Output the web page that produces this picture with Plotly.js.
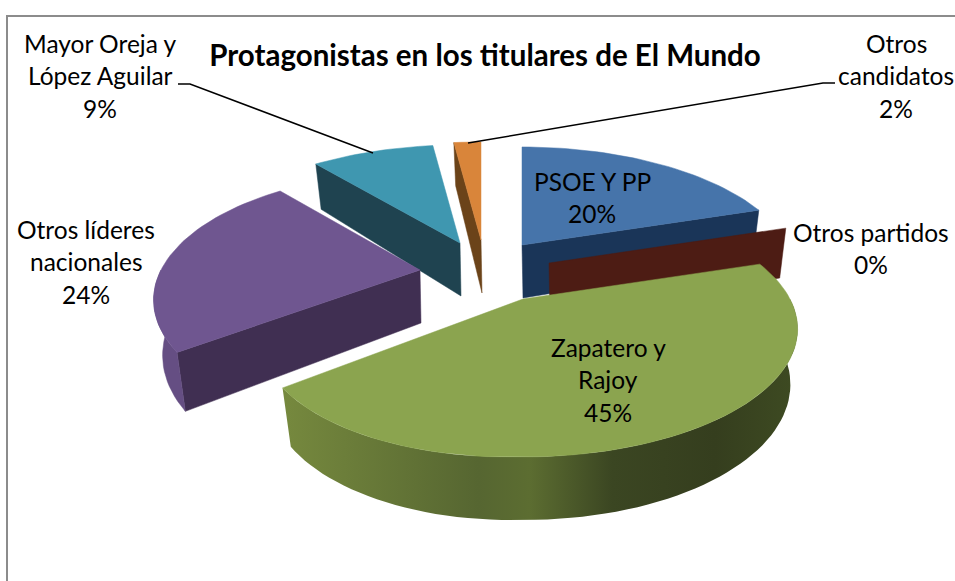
<!DOCTYPE html>
<html><head><meta charset="utf-8">
<script src="https://cdn.plot.ly/plotly-3.0.1.min.js"></script>
<style>html,body{margin:0;padding:0;background:#fff}#c{width:955px;height:581px}</style>
</head><body><div id="c"></div>
<script>
// ---- data ----
const categories = ["PSOE Y PP","Otros partidos","Zapatero y Rajoy","Otros líderes nacionales","Mayor Oreja y López Aguilar","Otros candidatos"];
const values = [20,0,45,24,9,2];
const titleText = "Protagonistas en los titulares de El Mundo";
const labelLines = [["PSOE Y PP"],["Otros partidos"],["Zapatero y","Rajoy"],["Otros líderes","nacionales"],["Mayor Oreja y","López Aguilar"],["Otros","candidatos"]];

// ---- drawing style / projection ----
const topColors  = ["#4674aa","#5a2a20","#8ba44f","#6f5690","#3f97b0","#d9853a"];
const wallColors = ["#1a3558","#4d1c14","#5f7033","#402f52","#1f4350","#6b4319"];
const rimColors  = ["#1a3558","#4d1c14","#5f7033","#654e83","#1f4350","#6b4319"];
const apexes = [[522,245],[549,263],[523,299],[420,270],[460,243],[481,240]];
const leftScale = [1,1,0.96,0.97,1,1];
const leftDrop  = [0,0,8,0,0,0];
const labelPos = [[592,181],[871,232],[608,347],[86,229],[100,43],[896,43]];
const lineGap = 32.5, A = 267, B = 121, K = 0.234;
const total = values.reduce((a,b)=>a+b,0);

function proj(i, deg){
  const t = deg*Math.PI/180, X = Math.sin(t), Y = -Math.cos(t), s = 1/(1-K*Y);
  const w = X < 0 ? leftScale[i] : 1, d = X < 0 ? -leftDrop[i]*X : 0;
  return {x: apexes[i][0]+A*w*X*s, y: apexes[i][1]+B*Y*s+d, Y};
}
function low(i, p){
  return {x: apexes[i][0]+(p.x-apexes[i][0])*0.97+1, y: p.y+53+10*p.Y};
}
function poly(pts, color, name, extra){
  return Object.assign({type:"scatter",mode:"lines",x:pts.map(p=>p.x),y:pts.map(p=>p.y),fill:"toself",
    fillcolor:color,line:{color:color,width:0.5},name:name,hoverinfo:"text",text:name,showlegend:false},extra||{});
}
function radialWall(i, deg, name){
  const c = {x:apexes[i][0],y:apexes[i][1],Y:0}, p = proj(i,deg);
  return poly([c,p,low(i,p),low(i,c),c], wallColors[i], name);
}
function rim(i, a0, a1, name){
  const from = Math.max(a0,90), to = Math.min(a1,270);
  if (to <= from) return null;
  const up=[], n = Math.ceil((to-from)/2);
  for(let k=0;k<=n;k++) up.push(proj(i,from+(to-from)*k/n));
  const pts = up.concat(up.slice().reverse().map(p=>low(i,p)));
  pts.push(up[0]);
  const extra = i===2 ? {line:{color:"rgba(0,0,0,0)",width:0},fillgradient:{type:"horizontal",colorscale:[
    [0,"#76893e"],[0.38,"#566631"],[0.48,"#5c6d31"],[0.64,"#3b4622"],[0.84,"#353e1e"],[1,"#3e4b22"]]}} : {};
  return poly(pts, rimColors[i], name, extra);
}
function topFace(i, a0, a1, name){
  const c = {x:apexes[i][0],y:apexes[i][1]}, pts=[c], n=Math.max(1,Math.ceil((a1-a0)/2));
  for(let k=0;k<=n;k++) pts.push(proj(i,a0+(a1-a0)*k/n));
  pts.push(c);
  return poly(pts, topColors[i], name);
}

// slices: back to front
let cum = 0;
const spans = values.map(v=>{const a0=cum/total*360; cum+=v; return [a0,cum/total*360];});
const order = [5,4,3,0,1,2];
const traces = [];
order.forEach(i=>{
  const [a0,a1] = spans[i], nm = categories[i]+": "+values[i]+"%";
  if (Math.sin(a0*Math.PI/180) < 0) traces.push(radialWall(i,a0,nm));
  if (Math.sin(a1*Math.PI/180) > 0) traces.push(radialWall(i,a1,nm));
  const r = rim(i,a0,a1,nm); if (r) traces.push(r);
  if (values[i] > 0) traces.push(topFace(i,a0,a1,nm));
});

// leader lines
traces.push({type:"scatter",mode:"lines",x:[178,190,373],y:[84,84,153],line:{color:"#000",width:1.5},hoverinfo:"skip",showlegend:false});
traces.push({type:"scatter",mode:"lines",x:[468,823,835],y:[143,83,83],line:{color:"#000",width:1.5},hoverinfo:"skip",showlegend:false});

// labels
const annotations = [];
categories.forEach((c,i)=>{
  const lines = labelLines[i].concat([values[i]+"%"]);
  lines.forEach((t,j)=>annotations.push({xref:"x",yref:"y",x:labelPos[i][0],y:labelPos[i][1]+j*lineGap,text:t,
    showarrow:false,xanchor:"center",yanchor:"middle",font:{family:"Lato, sans-serif",size:24.5,color:"#000"}}));
});

const layout = {
  width:955,height:581,margin:{l:0,r:0,t:0,b:0},paper_bgcolor:"#fff",plot_bgcolor:"#fff",showlegend:false,
  title:{text:titleText,x:485/955,xanchor:"center",y:1-56/581,yanchor:"middle",font:{family:"Lato, sans-serif",size:29.5,color:"#000",weight:700}},
  xaxis:{range:[0,955],visible:false,fixedrange:true},
  yaxis:{range:[581,0],visible:false,fixedrange:true},
  annotations,
  shapes:[
    {type:"line",xref:"x",yref:"y",x0:7,x1:955,y0:16,y1:16,line:{color:"#8c8c8c",width:2}},
    {type:"line",xref:"x",yref:"y",x0:7,x1:7,y0:15,y1:581,line:{color:"#8c8c8c",width:2}}
  ]
};
Plotly.newPlot("c",traces,layout,{displayModeBar:false,responsive:false});
</script></body></html>
